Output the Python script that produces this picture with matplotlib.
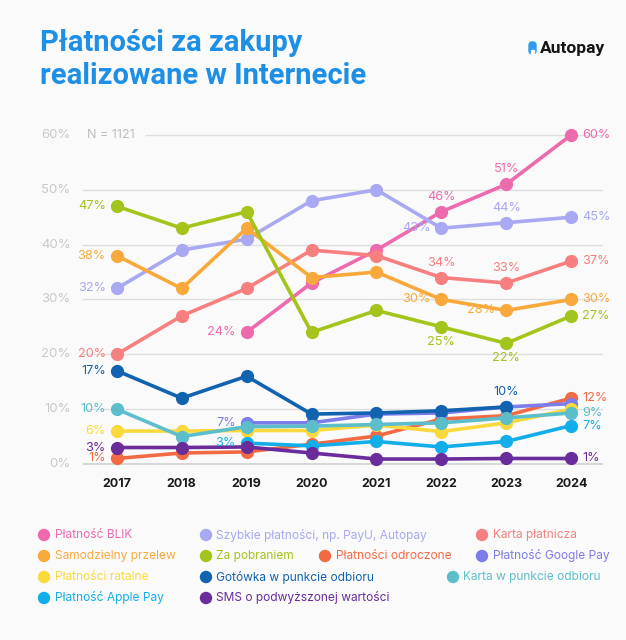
import matplotlib.pyplot as plt
import matplotlib.patches as patches
import numpy as np

nan = np.nan
years = [2017, 2018, 2019, 2020, 2021, 2022, 2023, 2024]

names = ["Płatność BLIK", "Szybkie płatności, np. PayU, Autopay", "Karta płatnicza",
         "Samodzielny przelew", "Za pobraniem", "Płatności odroczone", "Płatność Google Pay",
         "Płatności ratalne", "Gotówka w punkcie odbioru", "Karta w punkcie odbioru",
         "Płatność Apple Pay", "SMS o podwyższonej wartości"]

blik = [nan, nan, 24, 33, 39, 46, 51, 60]
szybkie = [32, 39, 41, 48, 50, 43, 44, 45]
karta = [20, 27, 32, 39, 38, 34, 33, 37]
przelew = [38, 32, 43, 34, 35, 30, 28, 30]
pobranie = [47, 43, 46, 24, 28, 25, 22, 27]
odroczone = [1, 2, 2.2, 3.6, 5.1, 8.2, 8.8, 12]
google = [nan, nan, 7.5, 7.5, 9.1, 9.3, 10.4, 11]
ratalne = [6, 6, 6.1, 6.1, 7.1, 5.9, 7.5, 10]
gotowka = [17, 12, 16, 9.1, 9.3, 9.7, 10.4, nan]
karta_pkt = [10, 5, 6.8, 6.9, 7.2, 7.5, 8.4, 9.3]
apple = [nan, nan, 3.8, 3.3, 4.1, 3.1, 4.1, 7]
sms = [3, 3, 3.1, 2, 0.9, 0.9, 1, 1]

series = [blik, szybkie, karta, przelew, pobranie, odroczone, google,
          ratalne, gotowka, karta_pkt, apple, sms]
colors = ["#EE6AAE", "#A9A8F2", "#F77F7F", "#F9A93B", "#A3C41A", "#F26A43", "#7C7CEB",
          "#FAD93C", "#1163B0", "#5DBECB", "#12AEEA", "#6A2B9B"]

# labels: (series index, year, text, side)
labels = [
    (0, 2019, "24%", "left"), (0, 2022, "46%", "above"), (0, 2023, "51%", "above"), (0, 2024, "60%", "right"),
    (1, 2017, "32%", "left"), (1, 2022, "43%", "left"), (1, 2023, "44%", "above"), (1, 2024, "45%", "right"),
    (2, 2017, "20%", "left"), (2, 2022, "34%", "above"), (2, 2023, "33%", "above"), (2, 2024, "37%", "right"),
    (3, 2017, "38%", "left"), (3, 2022, "30%", "left"), (3, 2023, "28%", "left"), (3, 2024, "30%", "right"),
    (4, 2017, "47%", "left"), (4, 2022, "25%", "below"), (4, 2023, "22%", "below"), (4, 2024, "27%", "right"),
    (5, 2017, "1%", "left"), (5, 2024, "12%", "right"),
    (6, 2019, "7%", "left"),
    (7, 2017, "6%", "left"),
    (8, 2017, "17%", "left"), (8, 2023, "10%", "above"),
    (9, 2017, "10%", "left"), (9, 2024, "9%", "right"),
    (10, 2019, "3%", "left"), (10, 2024, "7%", "right"),
    (11, 2017, "3%", "left"), (11, 2024, "1%", "right"),
]

bg = "#FAFAFA"
font = ["Inter", "DejaVu Sans"]
narrow = ["Liberation Sans Narrow", "Roboto", "DejaVu Sans"]

fig = plt.figure(figsize=(6.26, 6.4), dpi=100, facecolor=bg)
ax = fig.add_axes([0.1326, 0.2622, 0.8307, 0.5355], facecolor=bg)
ax.set_xlim(2016.48, 2024.49)
ax.set_ylim(-1.5, 61)
for s in ax.spines.values():
    s.set_visible(False)
ax.set_yticks([])

for g in [10, 20, 30, 40, 50]:
    ax.axhline(g, color="#DEDEDE", lw=1, zorder=0)
ax.axhline(0, color="#CFCFCF", lw=1.2, zorder=0)
ax.hlines(60, 2017.43, 2024.49, color="#DEDEDE", lw=1, zorder=0)
for g in [0, 10, 20, 30, 40, 50, 60]:
    ax.text(2016.29, g, f"{g}%", ha="right", va="center", color="#C9C9C9",
            fontsize=9.5, family=font, clip_on=False)
ax.text(2016.54, 60, "N = 1121", ha="left", va="center", color="#BDBDBD",
        fontsize=9, family=font)

ax.set_xticks(years)
ax.set_xticklabels([str(y) for y in years], fontsize=9, fontweight="bold",
                   family=font, color="#1A1A1A")
ax.tick_params(axis="x", length=0, pad=4)

for i, vals in enumerate(series):
    ax.plot(years, vals, color=colors[i], lw=2.6, marker="o", markersize=8.5,
            zorder=2 + i, solid_capstyle="round")

offsets = {"left": (-11, 0, "right", "center"), "right": (11, 0, "left", "center"),
           "above": (0, 9, "center", "bottom"), "below": (0, -9, "center", "top")}
for i, yr, txt, side in labels:
    dx, dy, ha, va = offsets[side]
    val = series[i][years.index(yr)]
    ax.annotate(txt, (yr, val), xytext=(dx, dy), textcoords="offset pixels",
                ha=ha, va=va, color=colors[i], fontsize=9.2, family=font, zorder=20)

# title and logo
fig.text(40 / 626, 1 - 43 / 640, "Płatności za zakupy", ha="left", va="center",
         fontsize=21, fontweight="bold", family=narrow, color="#1E8FE6")
fig.text(40 / 626, 1 - 76 / 640, "realizowane w Internecie", ha="left", va="center",
         fontsize=21, fontweight="bold", family=narrow, color="#1E8FE6")
# small arch-shaped icon
icon = patches.FancyBboxPatch((529 / 626, 1 - 54 / 640), 7 / 626, 12 / 640,
                              boxstyle="round,pad=0,rounding_size=0.005",
                              transform=fig.transFigure, color="#2E9BEF")
fig.patches.append(icon)
fig.patches.append(patches.Rectangle((531 / 626, 1 - 54 / 640), 3 / 626, 4 / 640,
                                     transform=fig.transFigure, color=bg))
fig.text(540 / 626, 1 - 48 / 640, "Autopay", ha="left", va="center", fontsize=12.5,
         fontweight="bold", family=narrow, color="#151515")

# legend
legend_pos = [
    (44, 55, 535), (206, 216, 535), (482, 493, 535),
    (44, 55, 556), (206, 216, 556), (325, 336, 556), (482, 493, 556),
    (44, 55, 577), (206, 216, 577), (453, 463, 577),
    (44, 55, 598), (206, 216, 598),
]
for i, (mx, tx, y) in enumerate(legend_pos):
    fig.patches.append(patches.Ellipse((mx / 626, 1 - y / 640), 11 / 626, 11 / 640,
                                       transform=fig.transFigure, color=colors[i]))
    fig.text(tx / 626, 1 - y / 640, names[i], ha="left", va="center", fontsize=8.6,
             family=font, color=colors[i])

fig.savefig("out.png", dpi=100, facecolor=bg)
